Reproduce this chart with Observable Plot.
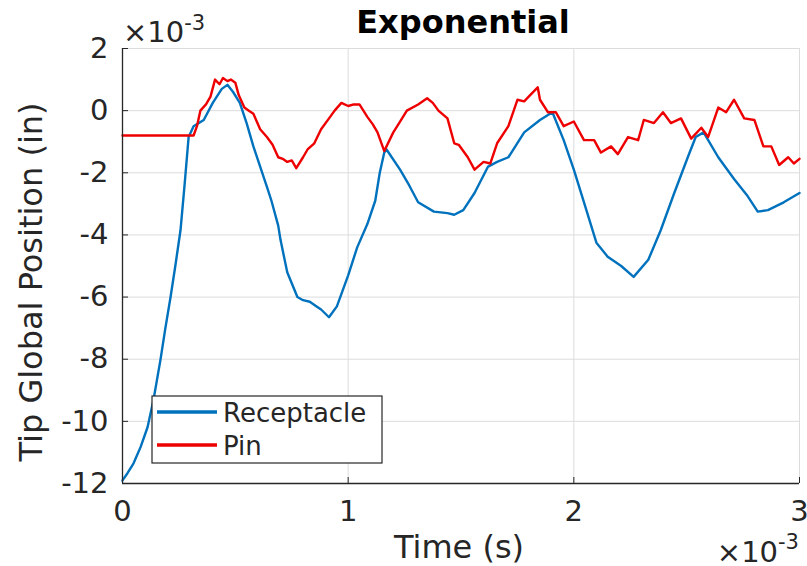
<!DOCTYPE html>
<html><head><meta charset="utf-8">
<script src="https://cdn.jsdelivr.net/npm/d3@7"></script>
<script src="https://cdn.jsdelivr.net/npm/@observablehq/plot@0.6"></script>
<style>body{margin:0;background:#fff}</style>
</head><body><div id="chart"></div>
<script>
// Time in units of 1e-3 s, position in units of 1e-3 in
const receptacleT = [0,0.022,0.049,0.08,0.111,0.137,0.168,0.19,0.213,0.235,0.257,0.275,0.293,0.315,0.36,0.40,0.44,0.465,0.49,0.52,0.55,0.58,0.61,0.64,0.66,0.69,0.70,0.73,0.775,0.80,0.83,0.86,0.88,0.915,0.95,0.975,1.0,1.04,1.085,1.12,1.14,1.16,1.17,1.23,1.27,1.31,1.38,1.44,1.47,1.51,1.56,1.62,1.66,1.71,1.78,1.85,1.905,1.955,2.0,2.045,2.1,2.15,2.21,2.265,2.33,2.385,2.445,2.505,2.54,2.575,2.64,2.71,2.77,2.815,2.86,2.93,3.0];
const receptacleY = [-11.9,-11.67,-11.35,-10.83,-10.19,-9.32,-8.03,-7.0,-6.0,-4.95,-3.85,-2.4,-0.85,-0.5,-0.3,0.25,0.7,0.83,0.6,0.25,-0.4,-1.15,-1.8,-2.45,-2.9,-3.7,-4.15,-5.2,-6.0,-6.1,-6.15,-6.3,-6.4,-6.65,-6.3,-5.8,-5.3,-4.4,-3.65,-2.9,-2.0,-1.35,-1.25,-1.9,-2.4,-2.95,-3.25,-3.3,-3.35,-3.2,-2.65,-1.8,-1.65,-1.5,-0.7,-0.3,-0.05,-0.95,-1.9,-2.95,-4.25,-4.7,-5.0,-5.35,-4.8,-3.85,-2.65,-1.5,-0.85,-0.7,-1.5,-2.2,-2.75,-3.25,-3.2,-2.95,-2.65];
const pinT = [0,0.315,0.33,0.345,0.37,0.39,0.41,0.43,0.445,0.465,0.48,0.5,0.515,0.54,0.56,0.58,0.61,0.64,0.665,0.69,0.71,0.73,0.75,0.77,0.80,0.82,0.85,0.88,0.92,0.94,0.97,1.0,1.025,1.05,1.085,1.11,1.13,1.16,1.2,1.23,1.26,1.31,1.35,1.375,1.40,1.44,1.47,1.49,1.53,1.56,1.60,1.63,1.66,1.71,1.75,1.78,1.80,1.84,1.85,1.885,1.92,1.955,2.0,2.045,2.09,2.12,2.165,2.195,2.24,2.285,2.31,2.355,2.395,2.43,2.475,2.52,2.565,2.595,2.64,2.675,2.71,2.755,2.8,2.84,2.875,2.91,2.95,2.975,3.0];
const pinY = [-0.8,-0.8,-0.5,0.0,0.2,0.45,1.0,0.85,1.05,0.95,1.0,0.9,0.5,0.1,0.0,-0.1,-0.6,-0.85,-1.1,-1.5,-1.55,-1.65,-1.6,-1.85,-1.5,-1.25,-1.05,-0.6,-0.2,0.0,0.25,0.15,0.2,0.2,-0.2,-0.45,-0.7,-1.3,-0.7,-0.35,0.0,0.2,0.4,0.25,0.0,-0.25,-1.05,-1.1,-1.5,-1.9,-1.65,-1.7,-1.05,-0.5,0.35,0.3,0.45,0.75,0.35,-0.05,-0.05,-0.5,-0.35,-0.95,-0.95,-1.35,-1.15,-1.4,-0.85,-0.95,-0.3,-0.4,-0.05,-0.4,-0.25,-0.9,-0.55,-0.85,0.1,-0.05,0.35,-0.25,-0.3,-1.15,-1.15,-1.75,-1.5,-1.7,-1.55];
const xTicks = [0,1,2,3];
const yTicks = [-12,-10,-8,-6,-4,-2,0,2];
const seriesNames = ["Receptacle","Pin"];
const seriesColors = ["#0072BD","#EE0000"];
const titleText = "Exponential";
const xLabel = "Time (s)";
const yLabel = "Tip Global Position (in)";

const receptacle = receptacleT.map((t,i)=>({t, y: receptacleY[i]}));
const pin = pinT.map((t,i)=>({t, y: pinY[i]}));
const ink = "#262626";

const W = 807, H = 566, mL = 122, mR = 8, mT = 48, mB = 83;
const fmt = d => d < 0 ? "-" + Math.abs(d) : String(d);
const plot = Plot.plot({
  width: W, height: H,
  marginLeft: mL, marginRight: mR, marginTop: mT, marginBottom: mB,
  style: {fontFamily: "DejaVu Sans", fontSize: "29px", color: ink, background: "white", overflow: "visible"},
  x: {domain: [0,3]},
  y: {domain: [-12,2]},
  marks: [
    Plot.gridX(xTicks, {stroke: "#dcdcdc", strokeOpacity: 1}),
    Plot.gridY(yTicks, {stroke: "#dcdcdc", strokeOpacity: 1}),
    Plot.line(receptacle, {x: "t", y: "y", stroke: seriesColors[0], strokeWidth: 2.4}),
    Plot.line(pin, {x: "t", y: "y", stroke: seriesColors[1], strokeWidth: 2.4}),
    Plot.ruleX([0], {stroke: ink, strokeWidth: 1.3}),
    Plot.ruleY([-12], {stroke: ink, strokeWidth: 1.3}),
    Plot.tickX(xTicks, {x: d=>d, stroke: ink, insetTop: (H-mT-mB)-6}),
    Plot.tickY(yTicks, {y: d=>d, stroke: ink, insetRight: (W-mL-mR)-6}),
    Plot.axisX(xTicks, {tickSize: 0, tickPadding: 17, label: null, fontSize: 29, fill: ink, tickFormat: fmt}),
    Plot.axisY(yTicks, {tickSize: 0, tickPadding: 14, label: null, fontSize: 29, fill: ink, tickFormat: fmt})
  ]
});
document.getElementById("chart").appendChild(plot);

const svg = d3.select(plot);
const ff = "DejaVu Sans";
svg.append("text").attr("x", 463).attr("y", 33).attr("text-anchor","middle")
  .attr("font-family", ff).attr("font-size", 32).attr("font-weight","bold").attr("fill","#000").text(titleText);
svg.append("text").attr("x", 459).attr("y", 558).attr("text-anchor","middle")
  .attr("font-family", ff).attr("font-size", 32).attr("fill", ink).text(xLabel);
svg.append("text").attr("transform","translate(42,282) rotate(-90)").attr("text-anchor","middle")
  .attr("font-family", ff).attr("font-size", 32).attr("fill", ink).text(yLabel);

// exponent annotations
const e1 = svg.append("text").attr("x", 123).attr("y", 42).attr("text-anchor","start").attr("font-family", ff).attr("font-size", 29).attr("fill", ink);
e1.append("tspan").text("×10");
e1.append("tspan").attr("dy", -12).attr("font-size", 21).text("-3");
const e2 = svg.append("text").attr("x", 799).attr("y", 562).attr("text-anchor","end").attr("font-family", ff).attr("font-size", 29).attr("fill", ink);
e2.append("tspan").text("×10");
e2.append("tspan").attr("dy", -13).attr("font-size", 21).text("-3");

// legend
const lg = svg.append("g");
lg.append("rect").attr("x",152).attr("y",396).attr("width",230).attr("height",67).attr("fill","white").attr("stroke",ink).attr("stroke-width",1.2);
seriesNames.forEach((name,i)=>{
  const yy = 412 + i*33;
  lg.append("line").attr("x1",157).attr("x2",217).attr("y1",yy).attr("y2",yy).attr("stroke",seriesColors[i]).attr("stroke-width",3.5);
  lg.append("text").attr("x",223).attr("y",yy+10).attr("text-anchor","start").attr("font-family",ff).attr("font-size",26).attr("fill",ink).text(name);
});
</script>
</body></html>
